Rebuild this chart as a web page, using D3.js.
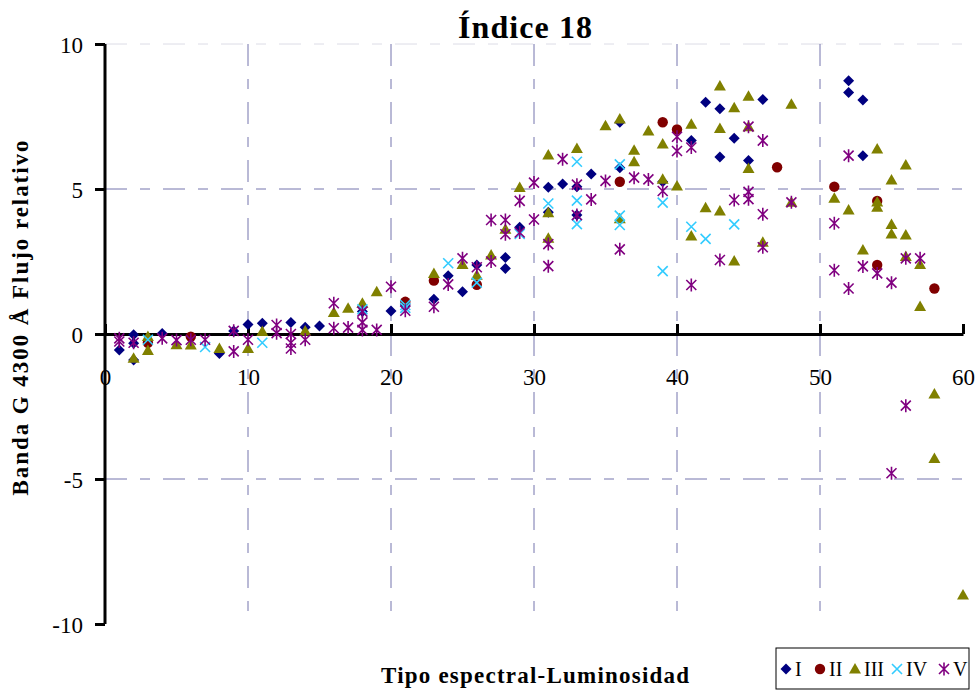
<!DOCTYPE html>
<html>
<head>
<meta charset="utf-8">
<script src="https://cdn.jsdelivr.net/npm/d3@7"></script>
<style>
  body { margin: 0; background: #fff; }
  svg text { font-family: "Liberation Serif", "Times New Roman", serif; fill: #000; }
</style>
</head>
<body>
<div id="chart"></div>
<script>
// datos: [tipo espectral, flujo relativo]
const serieI = [[1,-0.55],[2,-0.03],[2,-0.32],[2,-0.9],[4,0.02],[8,-0.67],[9,0.1],[10,0.33],[11,0.37],[13,0.4],
  [14,0.23],[15,0.28],[18,0.78],[20,0.79],[21,1.0],[23,1.2],[24,2.01],[25,1.46],[26,2.38],[28,2.64],[28,2.26],
  [29,3.68],[31,5.06],[31,4.2],[32,5.17],[33,5.08],[33,4.1],[34,5.52],[36,7.3],[36,5.73],[39,5.25],[41,6.67],
  [42,7.99],[43,7.77],[43,6.1],[44,6.75],[45,5.98],[46,8.09],[52,8.73],[52,8.33],[53,8.07],[53,6.15]];
const serieII = [[3,-0.3],[6,-0.09],[21,1.11],[23,1.84],[26,1.7],[36,5.25],[39,7.3],[40,7.05],[47,5.75],
  [51,5.08],[54,4.59],[54,2.38],[58,1.57]];
const serieIII = [[2,-0.84],[3,-0.09],[3,-0.57],[5,-0.37],[6,-0.38],[8,-0.5],[10,-0.5],[11,0.09],[14,0.1],
  [16,0.74],[17,0.89],[18,1.06],[19,1.46],[23,2.09],[25,2.4],[26,2.03],[27,2.72],[28,3.61],[29,5.05],[31,6.17],
  [31,4.18],[31,3.3],[33,6.4],[35,7.18],[36,7.41],[36,3.97],[37,6.34],[37,5.94],[38,7.0],[39,6.55],[39,5.34],
  [40,5.1],[41,7.23],[41,3.38],[42,4.35],[43,8.55],[43,7.09],[43,4.24],[44,7.8],[44,2.52],[45,8.2],[45,7.15],
  [45,5.71],[46,3.16],[48,7.92],[48,4.54],[51,4.68],[52,4.28],[53,2.9],[54,6.38],[54,4.55],[54,4.37],[55,5.31],
  [55,3.78],[55,3.45],[56,5.83],[56,3.41],[56,2.67],[57,2.4],[57,0.95],[58,-2.07],[58,-4.29],[60,-9.0]];
const serieIV = [[3,-0.2],[7,-0.45],[11,-0.3],[18,0.85],[21,1.0],[21,0.9],[24,2.44],[26,1.77],[29,3.45],
  [31,4.5],[33,5.94],[33,4.6],[33,3.79],[36,5.85],[36,4.08],[36,3.76],[39,4.53],[39,2.17],[41,3.7],[42,3.28],
  [44,3.78]];
const serieV = [[1,-0.15],[1,-0.26],[2,-0.3],[4,-0.15],[5,-0.21],[6,-0.2],[7,-0.2],[9,0.11],[9,-0.6],[10,-0.2],
  [12,0.31],[12,0.03],[13,0],[13,-0.3],[13,-0.5],[14,-0.2],[16,1.06],[16,0.2],[17,0.22],[18,0.77],[18,0.4],
  [18,0.14],[19,0.14],[20,1.63],[21,0.8],[23,0.94],[24,1.71],[25,2.61],[26,2.3],[27,3.93],[27,2.5],[28,3.93],
  [28,3.44],[29,4.59],[29,3.5],[30,5.22],[30,3.95],[31,3.1],[31,2.34],[32,6.03],[33,5.15],[33,4.1],[34,4.64],
  [35,5.28],[36,2.92],[37,5.39],[38,5.33],[39,4.93],[40,6.8],[40,6.31],[41,6.43],[41,1.69],[43,2.55],[44,4.62],
  [45,7.15],[45,4.9],[45,4.65],[46,6.67],[46,4.13],[46,2.99],[48,4.54],[51,3.82],[51,2.2],[52,6.15],[52,1.57],
  [53,2.33],[54,2.09],[55,1.77],[55,-4.8],[56,2.61],[56,-2.47],[57,2.61]];

const xTicks = [0, 10, 20, 30, 40, 50, 60];
const yTicks = [-10, -5, 0, 5, 10];
const nombres = ["I", "II", "III", "IV", "V"];

const width = 979, height = 695;
const serif = '"Liberation Serif", "Times New Roman", serif';

const svg = d3.select("#chart").append("svg")
    .attr("width", width)
    .attr("height", height);

const x = d3.scaleLinear().domain([0, 60]).range([105, 963]);
const y = d3.scaleLinear().domain([-10, 10]).range([624, 44]);

// rejilla
const gridColor = "#7474ad";
svg.append("line")
    .attr("x1", x(0)).attr("x2", x(60))
    .attr("y1", y(10)).attr("y2", y(10))
    .attr("stroke", "#dcdce6").attr("stroke-dasharray", "22,13,10,13");

svg.selectAll(".hgrid")
    .data([5, -5])
    .enter().append("line")
    .attr("class", "hgrid")
    .attr("x1", x(0)).attr("x2", x(60))
    .attr("y1", d => y(d)).attr("y2", d => y(d))
    .attr("stroke", gridColor).attr("stroke-width", 1)
    .attr("stroke-dasharray", "22,13,10,13");

svg.selectAll(".vgrid")
    .data([10, 20, 30, 40, 50])
    .enter().append("line")
    .attr("class", "vgrid")
    .attr("x1", d => x(d)).attr("x2", d => x(d))
    .attr("y1", y(10)).attr("y2", y(-10))
    .attr("stroke", gridColor).attr("stroke-width", 1)
    .attr("stroke-dasharray", "22,13,10,13");

// ejes
const xAxis = svg.append("g")
    .attr("transform", `translate(0,${y(0)})`)
    .call(d3.axisBottom(x).tickValues(xTicks).tickSize(-10).tickSizeOuter(0).tickPadding(35)
        .tickFormat(d => String(d)));
const yAxis = svg.append("g")
    .attr("transform", `translate(${x(0)},0)`)
    .call(d3.axisLeft(y).tickValues(yTicks).tickSize(10).tickSizeOuter(0).tickPadding(12)
        .tickFormat(d => String(d)));

[xAxis, yAxis].forEach(g => {
    g.attr("font-family", serif);
    g.select(".domain").attr("stroke", "#000").attr("stroke-width", 3);
    g.selectAll(".tick line").attr("stroke", "#000").attr("stroke-width", 3);
    g.selectAll(".tick text")
        .style("font-family", serif)
        .style("font-size", "23px").attr("fill", "#000");
});
yAxis.selectAll(".tick text").attr("dy", "0.35em");
yAxis.select(".domain").attr("d", `M0,${y(10)}V${y(-10)}`);

// marcadores
const colores = ["#000080", "#800000", "#808000", "#33ccff", "#800080"];

function marcador(sel, tipo, color) {
    if (tipo === 0) {
        sel.append("path").attr("d", "M0,-5.5L5.5,0L0,5.5L-5.5,0Z").attr("fill", color);
    } else if (tipo === 1) {
        sel.append("circle").attr("r", 5.2).attr("fill", color);
    } else if (tipo === 2) {
        sel.append("path").attr("d", "M0,-6L6,4.5L-6,4.5Z").attr("fill", color);
    } else if (tipo === 3) {
        sel.append("path").attr("d", "M-5,-5L5,5M-5,5L5,-5")
            .attr("stroke", color).attr("stroke-width", 1.6).attr("fill", "none");
    } else {
        sel.append("path").attr("d", "M-5,-5L5,5M-5,5L5,-5M0,-6.5L0,6.5")
            .attr("stroke", color).attr("stroke-width", 1.6).attr("fill", "none");
    }
}

const series = [serieI, serieII, serieIII, serieIV, serieV];
series.forEach((datos, i) => {
    svg.append("g").selectAll("g")
        .data(datos)
        .enter().append("g")
        .attr("transform", d => `translate(${x(d[0])},${y(d[1])})`)
        .each(function () { marcador(d3.select(this), i, colores[i]); });
});

// titulos
svg.append("text")
    .attr("x", 525).attr("y", 38)
    .attr("text-anchor", "middle")
    .attr("textLength", 134).attr("lengthAdjust", "spacing")
    .style("font-size", "32px").style("font-weight", "bold")
    .text("Índice 18");

svg.append("text")
    .attr("x", 535).attr("y", 683)
    .attr("text-anchor", "middle")
    .attr("textLength", 308).attr("lengthAdjust", "spacing")
    .style("font-size", "23px").style("font-weight", "bold")
    .text("Tipo espectral-Luminosidad");

svg.append("text")
    .attr("transform", "translate(28,318) rotate(-90)")
    .attr("text-anchor", "middle")
    .attr("textLength", 355).attr("lengthAdjust", "spacing")
    .style("font-size", "23px").style("font-weight", "bold")
    .text("Banda G 4300 Å Flujo relativo");

// leyenda
const leyenda = svg.append("g").attr("transform", "translate(776,648)");
leyenda.append("rect")
    .attr("width", 193).attr("height", 41)
    .attr("fill", "#fff").attr("stroke", "#000").attr("stroke-width", 1);
const posLeyenda = [10, 44, 79, 121, 168];
nombres.forEach((n, i) => {
    const it = leyenda.append("g").attr("transform", `translate(${posLeyenda[i]},21)`);
    marcador(it, i, colores[i]);
    it.append("text")
        .attr("x", 9).attr("y", 7)
        .style("font-size", "20px")
        .text(n);
});
</script>
</body>
</html>
